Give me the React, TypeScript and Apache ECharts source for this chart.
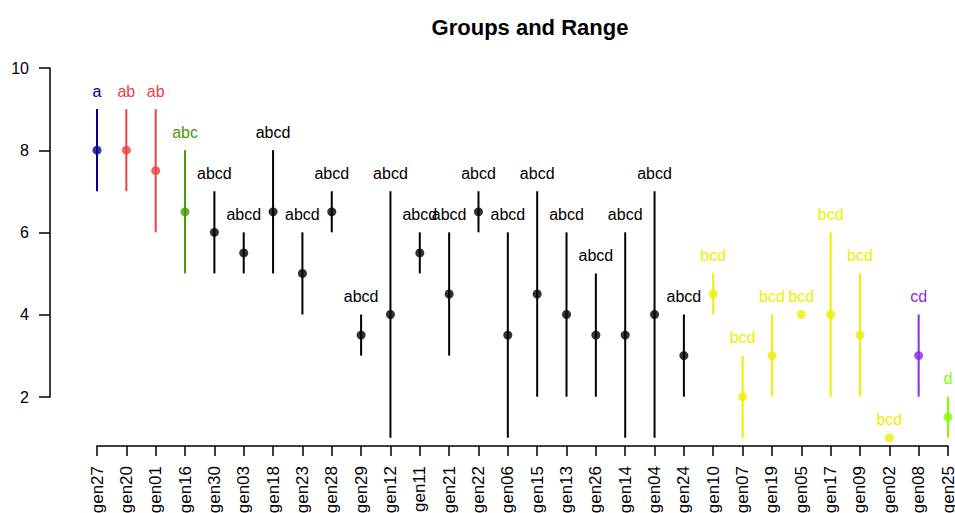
import React, { useEffect, useRef } from "react";
import * as echarts from "echarts";

const categories = ["gen27","gen20","gen01","gen16","gen30","gen03","gen18","gen23","gen28","gen29","gen12","gen11","gen21","gen22","gen06","gen15","gen13","gen26","gen14","gen04","gen24","gen10","gen07","gen19","gen05","gen17","gen09","gen02","gen08","gen25"];
const means = [8,8,7.5,6.5,6,5.5,6.5,5,6.5,3.5,4,5.5,4.5,6.5,3.5,4.5,4,3.5,3.5,4,3,4.5,2,3,4,4,3.5,1,3,1.5];
const lows =  [7,7,6,5,5,5,5,4,6,3,1,5,3,6,1,2,2,2,1,1,2,4,1,2,4,2,2,1,2,1];
const highs = [9,9,9,8,7,6,8,6,7,4,7,6,6,7,6,7,6,5,6,7,4,5,3,4,4,6,5,1,4,2];
const groups = ["a","ab","ab","abc","abcd","abcd","abcd","abcd","abcd","abcd","abcd","abcd","abcd","abcd","abcd","abcd","abcd","abcd","abcd","abcd","abcd","bcd","bcd","bcd","bcd","bcd","bcd","bcd","cd","d"];
const yTicks = [2, 4, 6, 8, 10];

const groupColors: Record<string, string> = {
  a: "#00008B",
  ab: "#EE4040",
  abc: "#4A9A00",
  abcd: "#000000",
  bcd: "#EEEE00",
  cd: "#8A2BE2",
  d: "#7FFF00",
};

const FONT = "'Liberation Sans', Arial, Helvetica, sans-serif";

export default function App() {
  const ref = useRef<HTMLDivElement>(null);
  useEffect(() => {
    if (!ref.current) return;
    const chart = echarts.init(ref.current, null, { renderer: "svg" });
    const rangeData = categories.map((c, i) => [i, lows[i], highs[i], means[i]]);
    const pointData = categories.map((c, i) => ({
      value: [i, means[i]],
      itemStyle: { color: groupColors[groups[i]] },
    }));
    chart.setOption({
      animation: false,
      backgroundColor: "#ffffff",
      textStyle: { fontFamily: FONT },
      title: {
        text: "Groups and Range",
        left: 525,
        textAlign: "center",
        top: 11,
        textStyle: { fontSize: 22, fontWeight: "bold", color: "#000", fontFamily: FONT },
      },
      grid: [
        { left: 97, right: 7, top: 68, bottom: 67, containLabel: false, outerBoundsMode: "none" },
        { left: 50, width: 1, top: 68, bottom: 116, containLabel: false, outerBoundsMode: "none" },
      ],
      xAxis: [
        {
          type: "category",
          gridIndex: 0,
          data: categories,
          boundaryGap: false,
          axisLine: { show: true, lineStyle: { color: "#000", width: 1.5 } },
          axisTick: { show: true, length: 10, alignWithLabel: true, lineStyle: { color: "#000", width: 1.5 } },
          axisLabel: { rotate: 90, interval: 0, fontSize: 17, color: "#000", margin: 20, fontFamily: FONT },
          splitLine: { show: false },
        },
        { type: "value", gridIndex: 1, show: false },
      ],
      yAxis: [
        { type: "value", gridIndex: 0, min: 0.8, max: 10, show: false },
        {
          type: "value",
          gridIndex: 1,
          min: yTicks[0],
          max: yTicks[yTicks.length - 1],
          interval: 2,
          axisLine: { show: true, lineStyle: { color: "#000", width: 1.5 } },
          axisTick: { show: true, length: 11, lineStyle: { color: "#000", width: 1.5 } },
          axisLabel: { fontSize: 16, color: "#000", margin: 21, fontFamily: FONT },
          splitLine: { show: false },
        },
      ],
      series: [
        {
          type: "custom",
          xAxisIndex: 0,
          yAxisIndex: 0,
          data: rangeData,
          z: 2,
          renderItem: (params: any, api: any) => {
            const i = api.value(0);
            const lo = api.coord([i, api.value(1)]);
            const hi = api.coord([i, api.value(2)]);
            const color = groupColors[groups[params.dataIndex]];
            return {
              type: "group",
              children: [
                {
                  type: "line",
                  shape: { x1: lo[0], y1: lo[1], x2: hi[0], y2: hi[1] },
                  style: { stroke: color, lineWidth: 2 },
                },
                {
                  type: "text",
                  x: hi[0],
                  y: hi[1] - 18,
                  style: {
                    text: groups[params.dataIndex],
                    fill: color,
                    font: `16px ${FONT}`,
                    textAlign: "center",
                    textVerticalAlign: "middle",
                  },
                },
              ],
            };
          },
        },
        {
          type: "scatter",
          xAxisIndex: 0,
          yAxisIndex: 0,
          data: pointData,
          symbol: "circle",
          symbolSize: 9,
          z: 3,
        },
      ],
    });
    return () => chart.dispose();
  }, []);
  return (
    <div
      ref={ref}
      style={{ position: "fixed", left: 0, top: 0, width: 955, height: 513, background: "#fff" }}
    />
  );
}
